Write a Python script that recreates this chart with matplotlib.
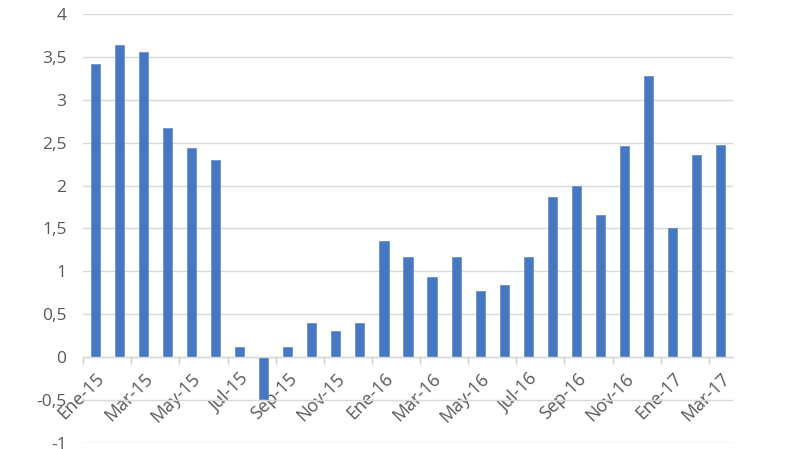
import matplotlib.pyplot as plt
import numpy as np

plt.rcParams['font.family'] = ['Open Sans', 'DejaVu Sans']

meses = ["Ene-15", "Feb-15", "Mar-15", "Abr-15", "May-15", "Jun-15", "Jul-15", "Ago-15", "Sep-15",
         "Oct-15", "Nov-15", "Dic-15", "Ene-16", "Feb-16", "Mar-16", "Abr-16", "May-16", "Jun-16",
         "Jul-16", "Ago-16", "Sep-16", "Oct-16", "Nov-16", "Dic-16", "Ene-17", "Feb-17", "Mar-17"]
valores = [3.42, 3.64, 3.56, 2.67, 2.44, 2.30, 0.12, -0.49, 0.12,
           0.40, 0.30, 0.40, 1.35, 1.17, 0.93, 1.17, 0.77, 0.84,
           1.17, 1.87, 1.99, 1.66, 2.46, 3.28, 1.50, 2.36, 2.47]
yticks = [-1, -0.5, 0, 0.5, 1, 1.5, 2, 2.5, 3, 3.5, 4]

fig = plt.figure(figsize=(8, 4.49), dpi=100)
ax = fig.add_axes([0.104, 0.0134, 0.812, 0.9556])

x = np.arange(len(meses))
ax.bar(x, valores, width=0.38, color='#4677C0', edgecolor='#5B8BD0', linewidth=0.5, zorder=3)

ax.set_ylim(-1, 4)
ax.set_xlim(-0.5, len(meses) - 0.5)
ax.set_yticks(yticks)
ax.set_yticklabels([str(v).replace('.', ',') if v != int(v) else str(int(v)) for v in yticks],
                   fontsize=12.5, color='#595959')
ax.tick_params(axis='y', length=0, pad=12)
ax.grid(axis='y', color='#D9D9D9', linewidth=1, zorder=0)

for s in ['top', 'right', 'left']:
    ax.spines[s].set_visible(False)
ax.spines['bottom'].set_position(('data', 0))
ax.spines['bottom'].set_color('#D9D9D9')
ax.spines['bottom'].set_linewidth(1)
ax.spines['bottom'].set_zorder(4)

ax.set_xticks(np.arange(-0.5, len(meses), 2))
ax.set_xticklabels([])
ax.tick_params(axis='x', which='major', length=5, color='#D0D0D0', width=1)
ax.set_xticks(x[::2], minor=True)
ax.set_xticklabels(meses[::2], minor=True, rotation=45, ha='right', rotation_mode='anchor',
                   fontsize=13, color='#595959')
ax.tick_params(axis='x', which='minor', length=0, pad=9)

fig.savefig('out.png', dpi=100)
